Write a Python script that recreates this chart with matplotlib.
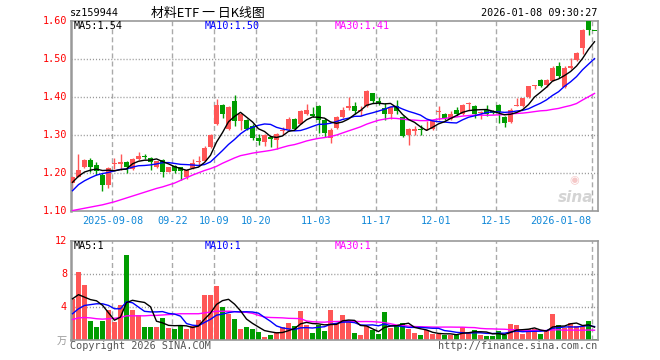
import matplotlib
matplotlib.use('Agg')
import numpy as np
import pandas as pd
import matplotlib.pyplot as plt
import matplotlib.transforms as mtransforms

plt.rcParams['lines.scale_dashes'] = False
plt.rcParams['font.family'] = ['DejaVu Sans Mono', 'Noto Sans CJK SC']

# trading days shown (China A-share calendar)
holidays = ['2025-10-01', '2025-10-02', '2025-10-03', '2025-10-06', '2025-10-07',
            '2025-10-08', '2026-01-01', '2026-01-02']
days = pd.bdate_range('2025-08-28', '2026-01-08')
days = days[~days.isin(pd.to_datetime(holidays))]

opens = [1.175, 1.191, 1.215, 1.235, 1.222, 1.194, 1.170, 1.225, 1.224, 1.230,
         1.211, 1.237, 1.246, 1.239, 1.216, 1.235, 1.204, 1.218, 1.215, 1.190,
         1.214, 1.230, 1.233, 1.268, 1.330, 1.380, 1.317, 1.390, 1.336, 1.340,
         1.323, 1.291, 1.283, 1.296, 1.286, 1.310, 1.316, 1.343, 1.330, 1.356,
         1.356, 1.375, 1.340, 1.291, 1.318, 1.347, 1.371, 1.377, 1.362, 1.375,
         1.410, 1.389, 1.371, 1.354, 1.375, 1.347, 1.301, 1.311, 1.316, 1.313,
         1.316, 1.360, 1.356, 1.342, 1.367, 1.354, 1.382, 1.376, 1.357, 1.367,
         1.362, 1.380, 1.348, 1.333, 1.375, 1.375, 1.400, 1.428, 1.445, 1.432,
         1.443, 1.482, 1.425, 1.475, 1.497, 1.529, 1.600, 1.575]
highs = [1.193, 1.250, 1.237, 1.239, 1.230, 1.200, 1.216, 1.239, 1.250, 1.232,
         1.240, 1.256, 1.251, 1.242, 1.233, 1.237, 1.217, 1.222, 1.217, 1.212,
         1.236, 1.246, 1.270, 1.303, 1.395, 1.382, 1.377, 1.404, 1.356, 1.342,
         1.330, 1.303, 1.303, 1.298, 1.305, 1.320, 1.348, 1.345, 1.366, 1.382,
         1.374, 1.378, 1.345, 1.318, 1.350, 1.374, 1.399, 1.388, 1.375, 1.418,
         1.411, 1.399, 1.384, 1.375, 1.393, 1.349, 1.319, 1.325, 1.327, 1.336,
         1.340, 1.377, 1.358, 1.363, 1.373, 1.382, 1.387, 1.378, 1.362, 1.378,
         1.365, 1.382, 1.350, 1.370, 1.397, 1.398, 1.430, 1.432, 1.447, 1.446,
         1.481, 1.491, 1.481, 1.503, 1.518, 1.577, 1.602, 1.575]
lows = [1.159, 1.189, 1.213, 1.202, 1.196, 1.152, 1.161, 1.212, 1.209, 1.200,
        1.208, 1.235, 1.238, 1.208, 1.214, 1.190, 1.202, 1.200, 1.183, 1.186,
        1.212, 1.218, 1.231, 1.266, 1.327, 1.344, 1.314, 1.323, 1.314, 1.313,
        1.288, 1.274, 1.270, 1.268, 1.263, 1.301, 1.313, 1.313, 1.328, 1.353,
        1.347, 1.305, 1.295, 1.279, 1.316, 1.345, 1.367, 1.356, 1.349, 1.373,
        1.384, 1.380, 1.340, 1.342, 1.354, 1.295, 1.275, 1.301, 1.301, 1.312,
        1.314, 1.340, 1.339, 1.340, 1.349, 1.352, 1.367, 1.344, 1.342, 1.349,
        1.355, 1.331, 1.320, 1.331, 1.375, 1.373, 1.398, 1.422, 1.425, 1.425,
        1.441, 1.450, 1.424, 1.472, 1.495, 1.513, 1.563, 1.575]
closes = [1.189, 1.209, 1.235, 1.215, 1.206, 1.170, 1.213, 1.228, 1.229, 1.215,
          1.238, 1.246, 1.242, 1.230, 1.231, 1.204, 1.215, 1.206, 1.205, 1.208,
          1.228, 1.233, 1.266, 1.300, 1.380, 1.354, 1.374, 1.336, 1.354, 1.317,
          1.291, 1.284, 1.301, 1.289, 1.303, 1.312, 1.343, 1.316, 1.364, 1.365,
          1.349, 1.339, 1.305, 1.314, 1.347, 1.367, 1.377, 1.364, 1.367, 1.415,
          1.389, 1.384, 1.354, 1.373, 1.362, 1.298, 1.317, 1.317, 1.314, 1.315,
          1.338, 1.363, 1.345, 1.356, 1.354, 1.380, 1.385, 1.354, 1.360, 1.356,
          1.359, 1.360, 1.331, 1.367, 1.378, 1.396, 1.428, 1.430, 1.430, 1.444,
          1.476, 1.456, 1.475, 1.482, 1.516, 1.575, 1.576, 1.575]
# volume, 10k units
volumes = [5.0, 8.2, 6.7, 2.3, 1.6, 2.3, 3.7, 2.2, 4.2, 10.3,
           3.7, 3.0, 1.6, 1.6, 1.6, 2.7, 1.5, 1.4, 1.7, 1.4,
           1.7, 2.4, 5.5, 5.4, 6.6, 4.0, 3.2, 2.6, 1.4, 1.6,
           1.4, 1.0, 0.45, 0.65, 1.0, 1.6, 2.1, 1.7, 3.5, 1.9,
           0.9, 1.9, 1.1, 3.7, 2.0, 3.0, 2.4, 0.9, 0.65, 1.7,
           1.25, 0.75, 3.4, 1.5, 1.9, 2.1, 1.4, 0.9, 0.65, 1.2,
           0.7, 0.7, 0.65, 0.65, 0.65, 1.6, 1.0, 1.25, 0.65, 0.5,
           0.5, 1.1, 0.65, 2.0, 1.9, 0.75, 1.4, 1.4, 0.75, 1.25,
           3.2, 1.9, 1.5, 2.1, 1.7, 1.7, 2.3, 0.15]

# moving average values before the window is full (history not shown)
ma5_head = [1.176, 1.192, 1.203, 1.208]
ma10_head = [1.154, 1.170, 1.180, 1.188, 1.195, 1.199, 1.202, 1.206, 1.210]
ma30_head = [1.102, 1.105, 1.108, 1.111, 1.114, 1.117, 1.121, 1.125, 1.130, 1.135,
             1.140, 1.145, 1.150, 1.155, 1.160, 1.164, 1.169, 1.174, 1.181, 1.188,
             1.195, 1.201, 1.207, 1.212, 1.218, 1.226, 1.233, 1.240, 1.246]
vma5_head = [5.0, 5.5, 5.2, 4.9]
vma10_head = [3.2, 3.8, 4.2, 4.3, 4.4, 4.4, 4.2, 3.8, 3.8]
vma30_head = [2.5, 2.7, 2.75, 2.7, 2.6, 2.55, 2.6, 2.65, 2.75, 2.95,
              2.95, 2.95, 2.95, 3.0, 3.0, 3.05, 3.1, 3.15, 3.2, 3.2,
              3.2, 3.2, 3.3, 3.4, 3.5, 3.5, 3.5, 3.45, 3.4]

price_levels = [1.10, 1.20, 1.30, 1.40, 1.50, 1.60]
vol_levels = [4, 8, 12]
tick_days = ['2025-09-08', '2025-09-22', '2025-10-09', '2025-10-20', '2025-11-03',
             '2025-11-17', '2025-12-01', '2025-12-15', '2026-01-08']
tick_labels = ['2025-09-08', '09-22', '10-09', '10-20', '11-03',
               '11-17', '12-01', '12-15', '2026-01-08']

RED = '#ff5656'
GREEN = '#009c00'
GRID = '#aaaaaa'
AXIS = '#999999'


def moving(values, n, head):
    s = pd.Series(values, dtype=float).rolling(n).mean().values
    s[:n - 1] = head
    return s


x = np.arange(len(days))
o = np.array(opens); c = np.array(closes)
prev = np.concatenate([[c[0]], c[:-1]])
up = np.where(c == o, c >= prev, c > o)
colors = np.where(up, RED, GREEN)

W, H = 660, 360
fig = plt.figure(figsize=(W / 100, H / 100), dpi=100)


def box(l, t, r, b):
    return [l / W, 1 - b / H, (r - l) / W, (b - t) / H]


ax = fig.add_axes(box(70.5, 20.7, 597.7, 211.3))
axv = fig.add_axes(box(70.5, 240.7, 597.7, 340.3))

tick_pos = [days.get_loc(pd.Timestamp(d)) - 0.36 for d in tick_days]

for a in (ax, axv):
    a.set_xlim(-0.333, 87.53)
    a.set_xticks([])
    a.set_yticks([])
    for s in a.spines.values():
        s.set_color(AXIS)
        s.set_linewidth(1.2)
    a.spines['left'].set_linewidth(1.8)
    for t in tick_pos:
        a.axvline(t, color=GRID, lw=1, ls=(0, (3.6, 2.2)), zorder=0)

# price panel
ax.set_ylim(1.10, 1.60)
for lv in price_levels[1:-1]:
    ax.axhline(lv, color=AXIS, lw=1, ls=(0, (0.8, 1.4)), zorder=0)
ax.vlines(x, lows, highs, colors=colors, lw=1, zorder=2)
body = np.maximum(np.abs(c - o), 0.0028)
ax.bar(x, body, bottom=np.minimum(o, c) - np.where(c == o, 0.0014, 0), width=0.83,
       color=colors, zorder=3)
ma5 = moving(closes, 5, ma5_head)
ma10 = moving(closes, 10, ma10_head)
ma30 = moving(closes, 30, ma30_head)
ax.plot(x, ma30, color='#ff00ff', lw=1, zorder=4)
ax.plot(x, ma10, color='#0000ff', lw=1, zorder=4)
ax.plot(x, ma5, color='black', lw=1, zorder=4)

# faint logo
ax.text(0.992, 0.075, 'sina', transform=ax.transAxes, ha='right', va='center',
        fontsize=11, fontstyle='italic', fontweight='bold', color='#d4d4d4',
        family='DejaVu Sans', zorder=1)
ax.text(0.955, 0.165, '◉', transform=ax.transAxes, ha='center', va='center',
        fontsize=8, color='#f5c8c8', family='DejaVu Sans', zorder=1)

# volume panel
axv.set_ylim(0, 12)
for lv in vol_levels[:-1]:
    axv.axhline(lv, color=AXIS, lw=1, ls=(0, (0.8, 1.4)), zorder=0)
axv.bar(x, volumes, width=0.83, color=colors, zorder=2)
vma5 = moving(volumes, 5, vma5_head)
vma10 = moving(volumes, 10, vma10_head)
vma30 = moving(volumes, 30, vma30_head)
axv.plot(x, vma30, color='#ff00ff', lw=1, zorder=4)
axv.plot(x, vma10, color='#0000ff', lw=1, zorder=4)
axv.plot(x, vma5, color='black', lw=1, zorder=4)

# labels
fs = 7.3
for lv in price_levels:
    y = 211.3 - (lv - 1.10) * 380
    fig.text(67 / W, 1 - y / H, '%.2f' % lv, color='red', fontsize=fs,
             ha='right', va='center')
for lv in vol_levels:
    y = 340.3 - lv * 99.6 / 12
    fig.text(67 / W, 1 - y / H, str(lv), color='red', fontsize=fs,
             ha='right', va='center')
fig.text(67 / W, 1 - 341 / H, '万', color='#999999', fontsize=fs,
         ha='right', va='center', family=['Noto Sans CJK SC'])

trans = mtransforms.blended_transform_factory(ax.transData, ax.transAxes)
for i, (p, lab) in enumerate(zip(tick_pos, tick_labels)):
    ha = 'right' if i == len(tick_pos) - 1 else 'center'
    xx = p - 0.2 if ha == 'right' else p
    ax.text(xx, -0.051, lab, transform=trans, color='#1088d8', fontsize=fs,
            ha=ha, va='center')

fig.text(70 / W, 1 - 13 / H, 'sz159944', fontsize=fs, ha='left', va='center')
fig.text(151 / W, 1 - 13 / H, '材料ETF 一 日K线图', fontsize=9.3, ha='left',
         va='center', family=['Noto Sans CJK SC', 'DejaVu Sans'])
fig.text(597 / W, 1 - 13 / H, '2026-01-08 09:30:27', fontsize=fs, ha='right',
         va='center')

fig.text(74 / W, 1 - 26 / H, 'MA5:%.2f' % ma5[-1], fontsize=fs, color='black',
         ha='left', va='center')
fig.text(205 / W, 1 - 26 / H, 'MA10:%.2f' % ma10[-1], fontsize=fs, color='#0000ff',
         ha='left', va='center')
fig.text(335 / W, 1 - 26 / H, 'MA30:%.2f' % ma30[-1], fontsize=fs, color='#ff00ff',
         ha='left', va='center')

fig.text(74 / W, 1 - 246 / H, 'MA5:%d' % vma5[-1], fontsize=fs, color='black',
         ha='left', va='center')
fig.text(205 / W, 1 - 246 / H, 'MA10:%d' % vma10[-1], fontsize=fs, color='#0000ff',
         ha='left', va='center')
fig.text(335 / W, 1 - 246 / H, 'MA30:%d' % vma30[-1], fontsize=fs, color='#ff00ff',
         ha='left', va='center')

fig.text(70 / W, 1 - 346 / H, 'Copyright 2026 SINA.COM', fontsize=fs,
         color='#555555', ha='left', va='center')
fig.text(597 / W, 1 - 346 / H, 'http://finance.sina.com.cn', fontsize=fs,
         color='#555555', ha='right', va='center')

fig.savefig('out.png', dpi=100)
